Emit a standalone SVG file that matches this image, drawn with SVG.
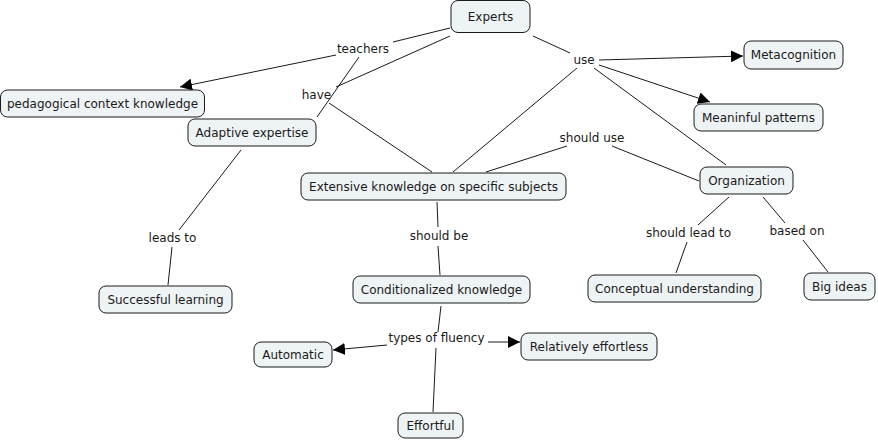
<svg xmlns="http://www.w3.org/2000/svg" width="878" height="441" viewBox="0 0 878 441">
<defs>
<style>
.node rect{fill:#eef3f5;stroke:#1a1a1a;stroke-width:1}
text{font-family:"DejaVu Sans","Verdana",sans-serif;font-size:12px;fill:#1a1a1a;text-anchor:middle}
.links line{stroke:#1a1a1a;stroke-width:1;fill:none}
.links line.arr{marker-end:url(#ah)}
</style>
<marker id="ah" markerUnits="userSpaceOnUse" markerWidth="12" markerHeight="12" viewBox="0 0 12 12" refX="12" refY="6" orient="auto">
<path d="M0,0 L12,6 L0,12 z" fill="#000"/>
</marker>
</defs>
<rect width="878" height="441" fill="#fff"/>
<g class="links">
<line x1="450" y1="28" x2="393" y2="42"/>
<line x1="336" y1="55" x2="180" y2="87" class="arr"/>
<line x1="359" y1="57" x2="317" y2="117"/>
<line x1="450" y1="36" x2="336" y2="87"/>
<line x1="329" y1="103" x2="432" y2="172"/>
<line x1="533" y1="36" x2="570" y2="53"/>
<line x1="599" y1="60" x2="743" y2="56" class="arr"/>
<line x1="599" y1="65" x2="710" y2="102" class="arr"/>
<line x1="577" y1="68" x2="453" y2="172"/>
<line x1="594" y1="68" x2="726" y2="165"/>
<line x1="486" y1="172" x2="567" y2="146"/>
<line x1="612" y1="146" x2="699" y2="181"/>
<line x1="729" y1="197" x2="698" y2="225"/>
<line x1="687" y1="242" x2="676" y2="273"/>
<line x1="763" y1="197" x2="785" y2="223"/>
<line x1="803" y1="240" x2="828" y2="272"/>
<line x1="241" y1="150" x2="179" y2="230"/>
<line x1="172" y1="247" x2="168" y2="285"/>
<line x1="437" y1="202" x2="438" y2="227"/>
<line x1="438" y1="246" x2="440" y2="275"/>
<line x1="441" y1="306" x2="438" y2="332"/>
<line x1="387" y1="345" x2="333" y2="350" class="arr"/>
<line x1="488" y1="342" x2="520" y2="342" class="arr"/>
<line x1="436" y1="348" x2="433" y2="412"/>
</g>
<g id="link-labels">
<text x="363" y="53">teachers</text>
<text x="316.5" y="99">have</text>
<text x="584" y="64">use</text>
<text x="592" y="142">should use</text>
<text x="172.5" y="242">leads to</text>
<text x="439" y="240">should be</text>
<text x="688.5" y="237">should lead to</text>
<text x="797" y="235">based on</text>
<text x="436.5" y="342">types of fluency</text>
</g>
<g id="experts" class="node"><rect x="451" y="0.5" width="79" height="32" rx="7"/><text x="490.5" y="20.5">Experts</text></g>
<g id="metacognition" class="node"><rect x="744" y="41" width="99" height="28" rx="7"/><text x="793.5" y="59">Metacognition</text></g>
<g id="meaninful-patterns" class="node"><rect x="694" y="104" width="129" height="27" rx="7"/><text x="758.5" y="121.5">Meaninful patterns</text></g>
<g id="organization" class="node"><rect x="700" y="167" width="93" height="27" rx="7"/><text x="746.5" y="184.5">Organization</text></g>
<g id="pck" class="node"><rect x="0.5" y="90" width="204" height="27" rx="7"/><text x="102.5" y="107.5">pedagogical context knowledge</text></g>
<g id="adaptive-expertise" class="node"><rect x="188" y="119" width="128" height="27" rx="7"/><text x="252" y="136.5">Adaptive expertise</text></g>
<g id="extensive-knowledge" class="node"><rect x="301" y="173" width="265" height="27" rx="7"/><text x="433.5" y="190.5">Extensive knowledge on specific subjects</text></g>
<g id="conditionalized-knowledge" class="node"><rect x="353" y="276" width="177" height="27" rx="7"/><text x="441.5" y="293.5">Conditionalized knowledge</text></g>
<g id="successful-learning" class="node"><rect x="99" y="286" width="133" height="27" rx="7"/><text x="165.5" y="303.5">Successful learning</text></g>
<g id="automatic" class="node"><rect x="254" y="342" width="78" height="25" rx="7"/><text x="293" y="358.5">Automatic</text></g>
<g id="effortful" class="node"><rect x="398" y="413" width="65" height="25" rx="7"/><text x="430.5" y="429.5">Effortful</text></g>
<g id="relatively-effortless" class="node"><rect x="521" y="333" width="136" height="27" rx="7"/><text x="589" y="350.5">Relatively effortless</text></g>
<g id="conceptual-understanding" class="node"><rect x="588" y="275" width="173" height="27" rx="7"/><text x="674.5" y="292.5">Conceptual understanding</text></g>
<g id="big-ideas" class="node"><rect x="804" y="273" width="71" height="27" rx="7"/><text x="839.5" y="290.5">Big ideas</text></g>
</svg>
